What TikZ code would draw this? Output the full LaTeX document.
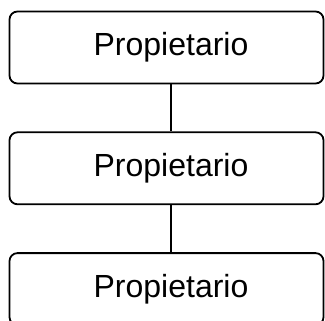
\documentclass[tikz,border=0pt]{standalone}
\usepackage{fontspec}
\setmainfont{Liberation Sans}
\usetikzlibrary{positioning}

\begin{document}
\begin{tikzpicture}[x=1pt,y=1pt,node distance=23.5pt]
  \tikzstyle{every node}=[draw,line width=0.9pt,rounded corners=4pt,
    minimum width=157pt,minimum height=36pt,inner sep=0pt,
    font=\fontsize{16}{19}\selectfont]
  \useasboundingbox (0,0) rectangle (162.5,-160);
  \node (own1) at (83.25,-23.75) {\hspace*{4.5pt}Propietario};
  \node (own2) [below=of own1] {\hspace*{4.5pt}Propietario};
  \node (own3) [below=of own2] {\hspace*{4.5pt}Propietario};
  \draw[line width=0.7pt] ([xshift=2.25pt]own1.south) -- ([xshift=2.25pt]own2.north);
  \draw[line width=0.7pt] ([xshift=2.25pt]own2.south) -- ([xshift=2.25pt]own3.north);
\end{tikzpicture}
\end{document}
